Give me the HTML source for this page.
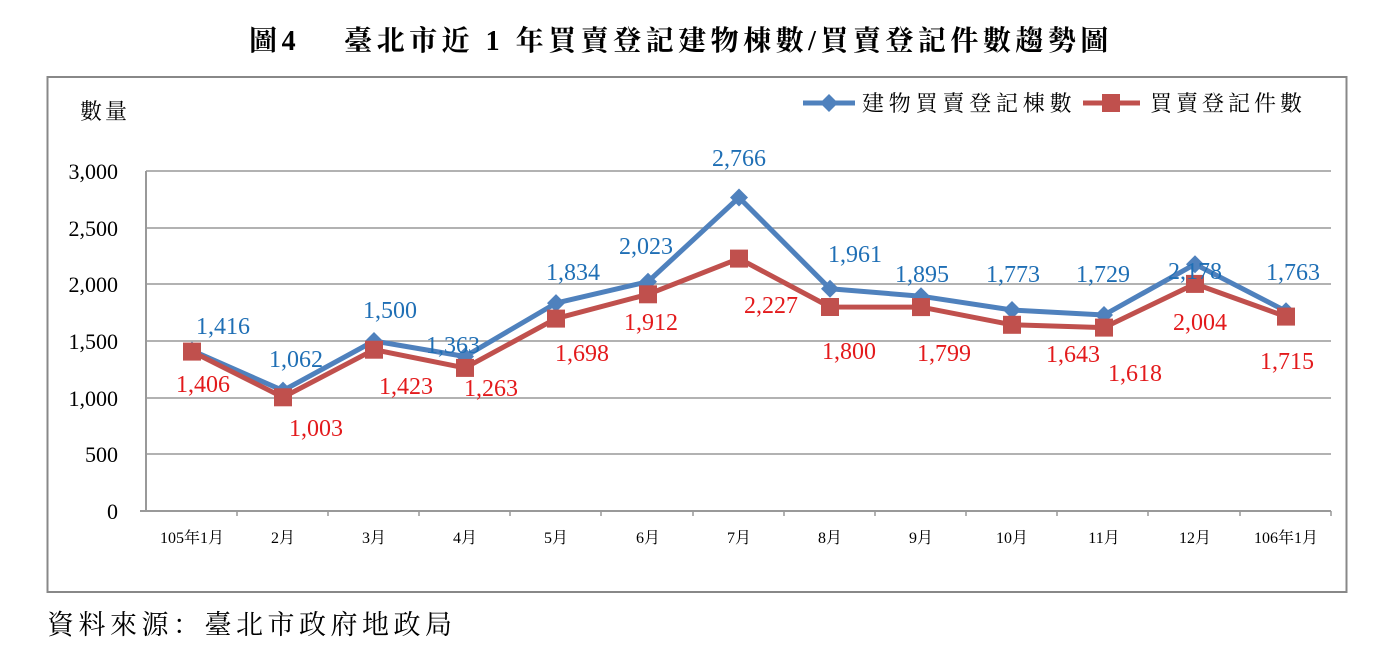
<!DOCTYPE html>
<html><head><meta charset="utf-8"><style>
body{margin:0;background:#fff;}
svg{display:block;}
</style></head><body>
<svg width="1396" height="656" xmlns="http://www.w3.org/2000/svg" font-family="'Liberation Serif','Noto Serif CJK SC',serif">
<text x="681" y="50" text-anchor="middle" font-size="28" font-weight="bold" letter-spacing="4.5">圖4　 臺北市近 1 年買賣登記建物棟數/買賣登記件數趨勢圖</text>
<rect x="47.5" y="77" width="1299" height="515" fill="none" stroke="#888" stroke-width="2"/>
<text x="80" y="119" font-size="22" letter-spacing="3">數量</text>
<g stroke="#999" stroke-width="1.5">
<line x1="146" y1="171" x2="1331" y2="171"/>
<line x1="146" y1="228" x2="1331" y2="228"/>
<line x1="146" y1="284" x2="1331" y2="284"/>
<line x1="146" y1="341" x2="1331" y2="341"/>
<line x1="146" y1="398" x2="1331" y2="398"/>
<line x1="146" y1="454" x2="1331" y2="454"/>
<line x1="140" y1="511" x2="1331" y2="511" stroke-width="2"/>
<line x1="146" y1="171" x2="146" y2="511" stroke-width="2"/>
</g>
<g stroke="#999" stroke-width="1.5">
<line x1="237" y1="511" x2="237" y2="516"/><line x1="328" y1="511" x2="328" y2="516"/><line x1="419" y1="511" x2="419" y2="516"/><line x1="510" y1="511" x2="510" y2="516"/><line x1="601" y1="511" x2="601" y2="516"/><line x1="693" y1="511" x2="693" y2="516"/><line x1="784" y1="511" x2="784" y2="516"/><line x1="875" y1="511" x2="875" y2="516"/><line x1="966" y1="511" x2="966" y2="516"/><line x1="1057" y1="511" x2="1057" y2="516"/><line x1="1148" y1="511" x2="1148" y2="516"/><line x1="1240" y1="511" x2="1240" y2="516"/><line x1="1331" y1="511" x2="1331" y2="516"/>
</g>
<g font-size="22" text-anchor="end">
<text x="118" y="179">3,000</text><text x="118" y="236">2,500</text><text x="118" y="292">2,000</text><text x="118" y="349">1,500</text><text x="118" y="406">1,000</text><text x="118" y="462">500</text><text x="118" y="519">0</text>
</g>
<g font-size="16" text-anchor="middle">
<text x="192" y="543">105年1月</text><text x="283" y="543">2月</text><text x="374" y="543">3月</text><text x="465" y="543">4月</text><text x="556" y="543">5月</text><text x="648" y="543">6月</text><text x="739" y="543">7月</text><text x="830" y="543">8月</text><text x="921" y="543">9月</text><text x="1012" y="543">10月</text><text x="1104" y="543">11月</text><text x="1195" y="543">12月</text><text x="1286" y="543">106年1月</text>
</g>
<polyline fill="none" stroke="#4F81BD" stroke-width="5" stroke-linejoin="round" points="192,350.5 283,390.6 374,341 465,356.5 556,303.1 648,281.7 739,197.5 830,288.8 921,296.2 1012,310 1104,315 1195,264.2 1286,311.2"/>
<g fill="#4F81BD">
<path d="M192,341.5l9,9l-9,9l-9,-9z"/><path d="M283,381.6l9,9l-9,9l-9,-9z"/><path d="M374,332l9,9l-9,9l-9,-9z"/><path d="M465,347.5l9,9l-9,9l-9,-9z"/><path d="M556,294.1l9,9l-9,9l-9,-9z"/><path d="M648,272.7l9,9l-9,9l-9,-9z"/><path d="M739,188.5l9,9l-9,9l-9,-9z"/><path d="M830,279.8l9,9l-9,9l-9,-9z"/><path d="M921,287.2l9,9l-9,9l-9,-9z"/><path d="M1012,301l9,9l-9,9l-9,-9z"/><path d="M1104,306l9,9l-9,9l-9,-9z"/><path d="M1195,255.2l9,9l-9,9l-9,-9z"/><path d="M1286,302.2l9,9l-9,9l-9,-9z"/>
</g>
<polyline fill="none" stroke="#C0504D" stroke-width="5" stroke-linejoin="round" points="192,351.6 283,397.3 374,349.7 465,367.9 556,318.6 648,294.3 739,258.6 830,307 921,307.1 1012,324.8 1104,327.6 1195,283.9 1286,316.6"/>
<g fill="#C0504D">
<rect x="183" y="342.6" width="18" height="18"/><rect x="274" y="388.3" width="18" height="18"/><rect x="365" y="340.7" width="18" height="18"/><rect x="456" y="358.9" width="18" height="18"/><rect x="547" y="309.6" width="18" height="18"/><rect x="639" y="285.3" width="18" height="18"/><rect x="730" y="249.6" width="18" height="18"/><rect x="821" y="298" width="18" height="18"/><rect x="912" y="298.1" width="18" height="18"/><rect x="1003" y="315.8" width="18" height="18"/><rect x="1095" y="318.6" width="18" height="18"/><rect x="1186" y="274.9" width="18" height="18"/><rect x="1277" y="307.6" width="18" height="18"/>
</g>
<g font-size="24" text-anchor="middle" fill="#1F6FB5">
<text x="223" y="334">1,416</text><text x="296" y="367">1,062</text><text x="390" y="318">1,500</text><text x="453" y="353">1,363</text><text x="573" y="280">1,834</text><text x="646" y="254">2,023</text><text x="739" y="166">2,766</text><text x="855" y="262">1,961</text><text x="922" y="282">1,895</text><text x="1013" y="282">1,773</text><text x="1103" y="282">1,729</text><text x="1195" y="279">2,178</text><text x="1293" y="280">1,763</text>
</g>
<g font-size="24" text-anchor="middle" fill="#E31A1C">
<text x="203" y="392">1,406</text><text x="316" y="436">1,003</text><text x="406" y="394">1,423</text><text x="491" y="396">1,263</text><text x="582" y="361">1,698</text><text x="651" y="330">1,912</text><text x="771" y="313">2,227</text><text x="849" y="359">1,800</text><text x="944" y="361">1,799</text><text x="1073" y="362">1,643</text><text x="1135" y="381">1,618</text><text x="1200" y="330">2,004</text><text x="1287" y="369">1,715</text>
</g>
<line x1="803" y1="103" x2="855" y2="103" stroke="#4F81BD" stroke-width="5"/>
<path d="M829,94l9,9l-9,9l-9,-9z" fill="#4F81BD"/>
<text x="862" y="111" font-size="22" letter-spacing="4.8">建物買賣登記棟數</text>
<line x1="1083" y1="103" x2="1140" y2="103" stroke="#C0504D" stroke-width="5"/>
<rect x="1102" y="94" width="18" height="18" fill="#C0504D"/>
<text x="1150" y="111" font-size="22" letter-spacing="4">買賣登記件數</text>
<text x="47" y="634" font-size="27" letter-spacing="4.5">資料來源：臺北市政府地政局</text>
</svg>
</body></html>
